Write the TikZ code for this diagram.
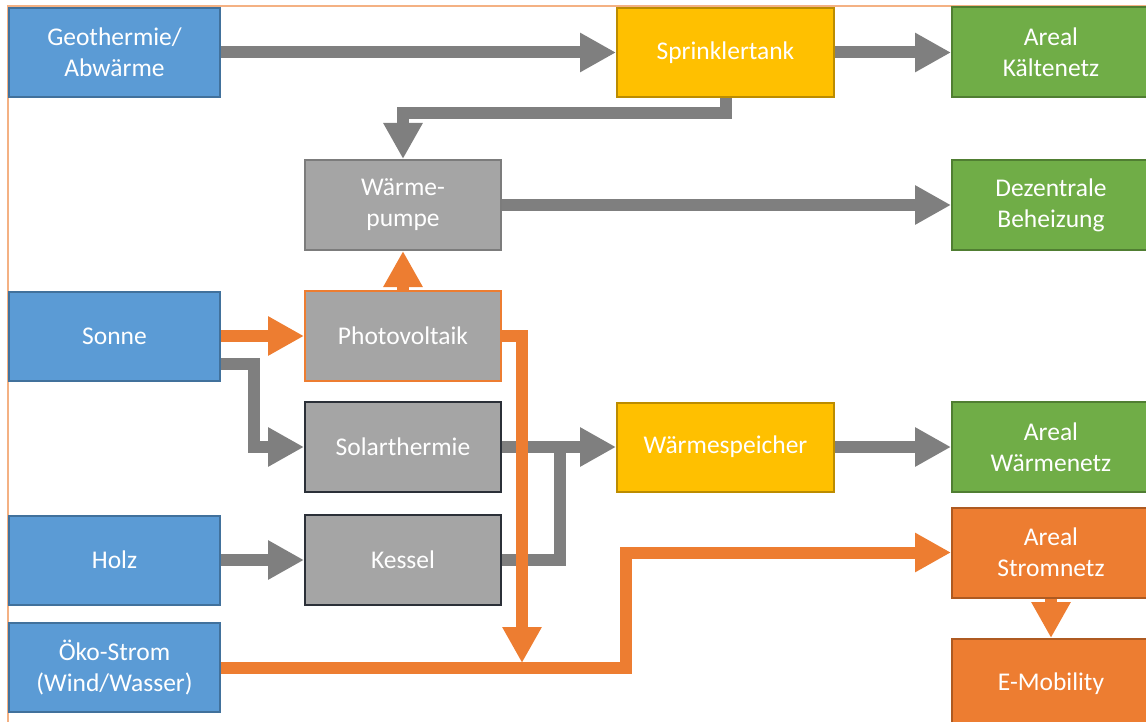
\documentclass[tikz,border=0pt]{standalone}
\usepackage{fontspec}
\setmainfont{Carlito}
\usepackage{tikz}
\usetikzlibrary{arrows.meta}
\definecolor{srcblue}{HTML}{5B9BD5}
\definecolor{srcline}{HTML}{41719C}
\definecolor{tankyellow}{HTML}{FFC000}
\definecolor{tankline}{HTML}{BC8C00}
\definecolor{netgreen}{HTML}{70AD47}
\definecolor{netline}{HTML}{507E32}
\definecolor{unitgrey}{HTML}{A5A5A5}
\definecolor{unitline}{HTML}{7C7C7C}
\definecolor{darkline}{HTML}{2B3038}
\definecolor{elorange}{HTML}{ED7D31}
\definecolor{elline}{HTML}{AE5A21}
\definecolor{flowgrey}{HTML}{7F7F7F}
\definecolor{frameorange}{HTML}{F4B183}
\tikzstyle{box}=[rectangle, line width=2pt, text=white, align=center, inner sep=0pt, font=\fontsize{25.5}{31}\selectfont]
\tikzstyle{src}=[box, fill=srcblue, draw=srcline, minimum width=211pt, minimum height=89pt]
\tikzstyle{tank}=[box, fill=tankyellow, draw=tankline, minimum width=217pt, minimum height=89pt]
\tikzstyle{net}=[box, fill=netgreen, draw=netline, minimum width=198pt, minimum height=90pt]
\tikzstyle{unit}=[box, fill=unitgrey, draw=unitline, minimum width=196pt, minimum height=90pt]
\tikzstyle{elnet}=[box, fill=elorange, draw=elline, minimum width=198pt, minimum height=90pt]
\tikzstyle{flow}=[draw=flowgrey, line width=12pt, -{Triangle[width=37pt,length=36pt]}]
\tikzstyle{eflow}=[draw=elorange, line width=12pt, -{Triangle[width=37pt,length=36pt]}]

\begin{document}
\begin{tikzpicture}[x=1pt, y=-1pt]
    \clip (0,0) rectangle (1146,722);
    \draw[frameorange, line width=1.5pt] (8,722) -- (8,6) -- (1146,6);
    % sources
    \node[src] (geo) at (114.5,52.5) {Geothermie/\\Abwärme};
    \node[src] (sonne) at (114.5,336) {Sonne};
    \node[src] (holz) at (114.5,560) {Holz};
    \node[src] (oeko) at (114.5,667.5) {Öko-Strom\\(Wind/Wasser)};
    % units
    \node[tank] (sprink) at (725.5,52.5) {Sprinklertank};
    \node[unit] (wp) at (403,205) {Wärme-\\pumpe};
    \node[unit, draw=elorange] (pv) at (403,336) {Photovoltaik};
    \node[unit, draw=darkline] (solar) at (403,447) {Solarthermie};
    \node[unit, draw=darkline] (kessel) at (403,560) {Kessel};
    \node[tank] (speicher) at (725.5,447) {Wärmespeicher};
    % consumers
    \node[net] (kaelte) at (1051,52.5) {Areal\\Kältenetz};
    \node[net] (dez) at (1051,205) {Dezentrale\\Beheizung};
    \node[net] (waerme) at (1051,447) {Areal\\Wärmenetz};
    \node[elnet] (strom) at (1051,552.5) {Areal\\Stromnetz};
    \node[elnet] (emob) at (1051,684) {E-Mobility};
    \foreach \from/\to in
      {geo/sprink, sprink/kaelte, wp/dez, holz/kessel, solar/speicher, speicher/waerme}
    \draw[flow] (\from.east) -- (\to.west);
    \draw[flow] (sprink.south) -- (sprink.south |- 0,113) -| (wp.north);
    \draw[flow] (sonne.east |- 0,364) -- (254,364) |- (solar.west);
    \draw[draw=flowgrey, line width=12pt] (kessel.east) -| (560,447);
    \draw[eflow] (sonne.east) -- (pv.west);
    \draw[eflow] (pv.north) -- (wp.south);
    \draw[eflow] (pv.east) -- (522,336) -- (522,663);
    \draw[eflow] (oeko.east) -- (626,667.5) |- (strom.west);
    \draw[eflow] (strom.south) -- (emob.north);
\end{tikzpicture}
\end{document}
